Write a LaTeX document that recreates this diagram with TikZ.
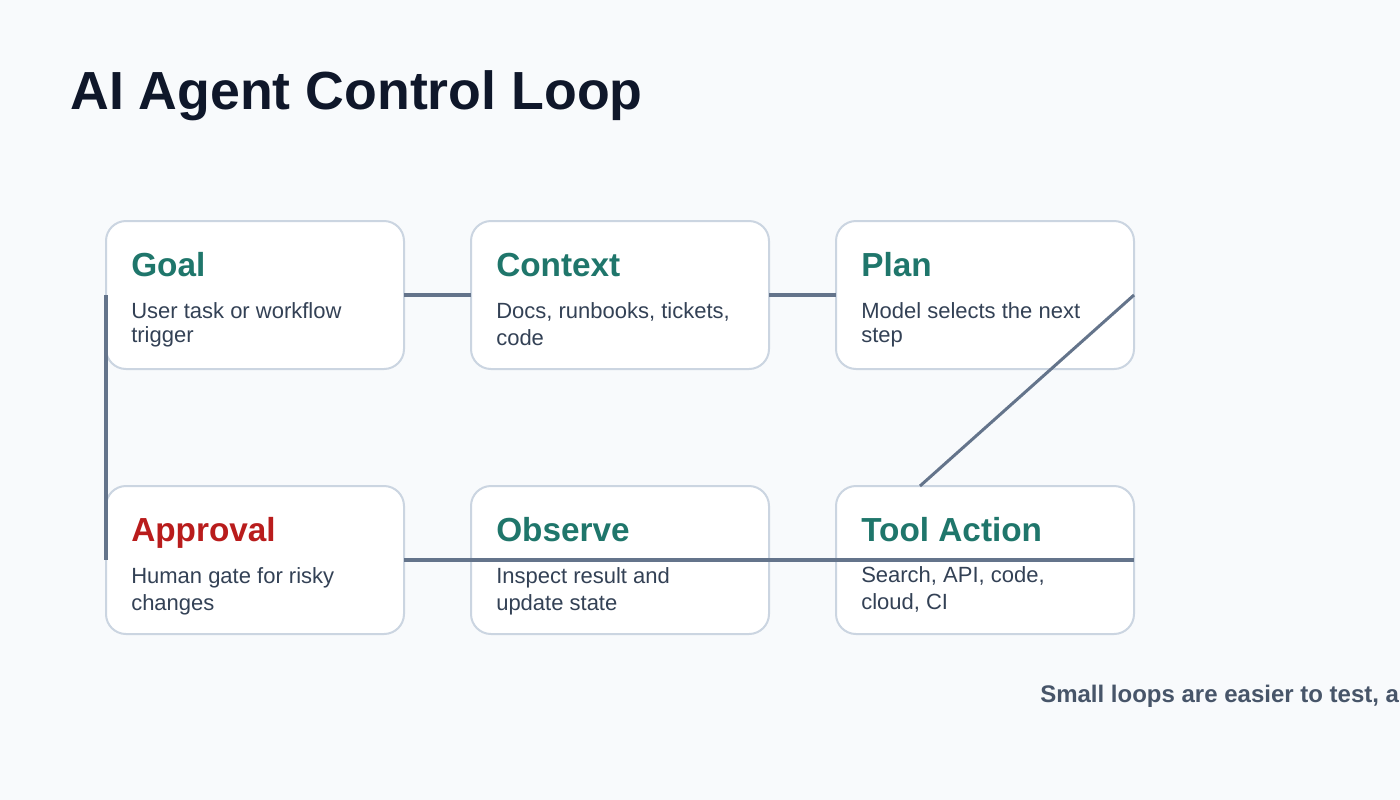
\documentclass[tikz,border=0pt]{standalone}
\usepackage{fontspec}
\setmainfont{Liberation Sans}
\usepackage{tikz}
\usetikzlibrary{positioning,calc}
\definecolor{pagebg}{HTML}{F8FAFC}
\definecolor{ink}{HTML}{0F172A}
\definecolor{boxline}{HTML}{CBD5E1}
\definecolor{wire}{HTML}{64748B}
\definecolor{teal}{HTML}{1F766B}
\definecolor{alert}{HTML}{B91C1C}
\definecolor{body}{HTML}{334155}
\definecolor{note}{HTML}{475569}

\begin{document}
\begin{tikzpicture}[x=0.75pt,y=-0.75pt,node distance=87.75pt and 50.25pt,
box/.style={draw=boxline,fill=white,line width=1.5pt,rounded corners=15pt,minimum width=223.5pt,minimum height=111pt,inner sep=0pt,outer sep=0pt},
ttl/.style={anchor=base west,inner sep=0pt,text=teal,font=\fontsize{25}{28}\selectfont\bfseries},
desc/.style={anchor=base west,inner sep=0pt,align=left,text=body,font=\fontsize{16.5}{18}\selectfont},
link/.style={draw=wire,line width=3pt}]
\fill[pagebg] (0,0) rectangle (1400,800);
\useasboundingbox (0,0) rectangle (1400,800);
\node[anchor=base west,inner sep=0pt,text=ink,font=\fontsize{40.25}{46}\selectfont\bfseries] (heading) at (70,109) {AI Agent Control Loop};
\node[box] (goal) at (255,295) {};
\node[box,right=of goal] (context) {};
\node[box,right=of context] (plan) {};
\node[box,below=of goal] (approval) {};
\node[box,right=of approval] (observe) {};
\node[box,right=of observe] (tool) {};
% titles, then two-line notes (base = last line)
\node[ttl] (goal-t) at ($(goal.north west)+(25,55)$) {Goal};
\node[desc] (goal-d) at ($(goal.north west)+(25,121)$) {User task or workflow\\trigger};
\node[ttl] (context-t) at ($(context.north west)+(25,55)$) {Context};
\node[desc] (context-d) at ($(context.north west)+(25,124)$) {Docs, runbooks, tickets,\\[2.25pt]code};
\node[ttl] (plan-t) at ($(plan.north west)+(25,55)$) {Plan};
\node[desc] (plan-d) at ($(plan.north west)+(25,121)$) {Model selects the next\\step};
\node[ttl,text=alert] (approval-t) at ($(approval.north west)+(25,55)$) {Approval};
\node[desc] (approval-d) at ($(approval.north west)+(25,124)$) {Human gate for risky\\[2.25pt]changes};
\node[ttl] (observe-t) at ($(observe.north west)+(25,55)$) {Observe};
\node[desc] (observe-d) at ($(observe.north west)+(25,124)$) {Inspect result and\\[2.25pt]update state};
\node[ttl] (tool-t) at ($(tool.north west)+(25,55)$) {Tool Action};
\node[desc] (tool-d) at ($(tool.north west)+(25,123)$) {Search, API, code,\\[2.25pt]cloud, CI};
\coordinate (tool-in) at ($(tool.north west)+(84,0)$);
\draw[link] (goal) -- (context);
\draw[link] (context) -- (plan);
\draw[link,line width=2.25pt] (plan.east) -- (tool-in);
\draw[link] (approval.east) -- (tool.east);
\draw[link] (goal.west) -- (approval.west);
\node[anchor=base west,inner sep=0pt,text=note,font=\fontsize{18}{20}\selectfont\bfseries] (footer) at (1040,702) {Small loops are easier to test, a};
\end{tikzpicture}
\end{document}
